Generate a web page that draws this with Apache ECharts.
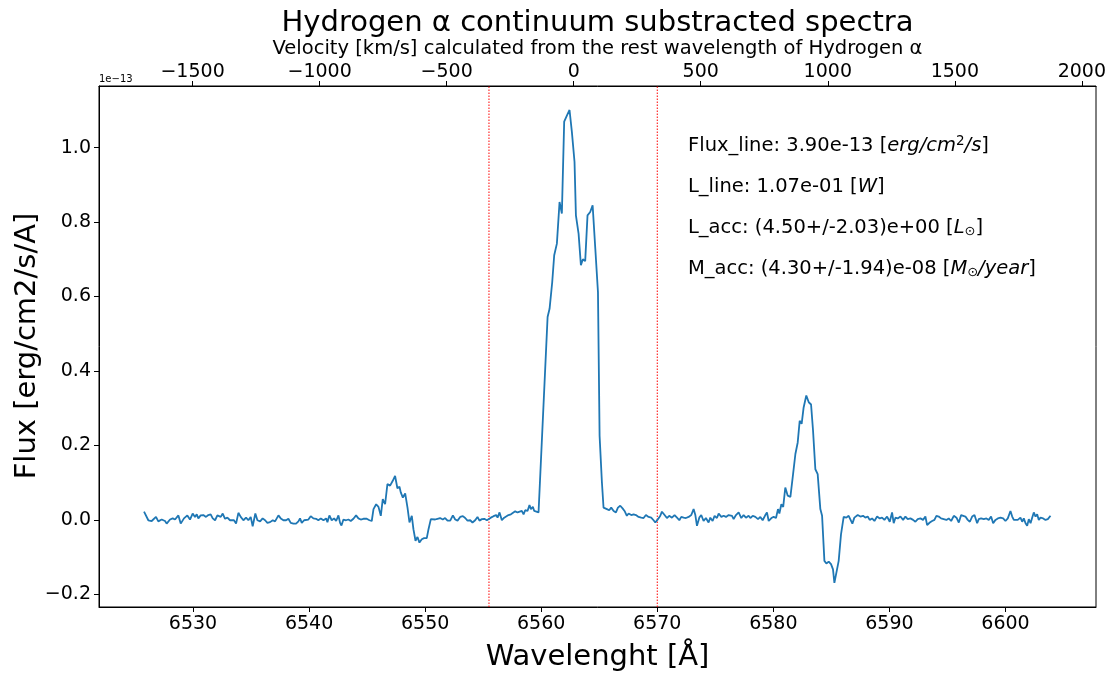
<!DOCTYPE html>
<html>
<head>
<meta charset="utf-8">
<script src="https://cdn.jsdelivr.net/npm/echarts@6/dist/echarts.min.js"></script>
<style>
html,body{margin:0;padding:0;background:#fff;}
#c{width:1112px;height:673px;}
</style>
</head>
<body>
<div id="c"></div>
<script>
// ---------------- DATA ----------------
// Flux is in units of 1e-13 erg/cm2/s/A ; pairs are [wavelength (A), flux]
const blueContinuum = [
 [6525.78,0.022],[6526.15,-0.001],[6526.44,-0.003],[6526.81,0.008],[6527.01,-0.004],[6527.30,0.001],[6527.59,-0.003],[6527.73,-0.010],
 [6528.02,0.001],[6528.25,0.004],[6528.45,0.001],[6528.74,0.012],[6528.94,-0.010],[6529.22,0.004],[6529.51,0.012],[6529.74,0.001],
 [6529.97,0.017],[6530.17,0.008],[6530.32,0.015],[6530.46,0.004],[6530.66,0.012],[6530.89,0.013],[6531.12,0.008],[6531.32,0.013],
 [6531.52,0.015],[6531.70,0.004],[6531.90,-0.001],[6532.10,0.012],[6532.27,0.017],[6532.39,0.008],[6532.56,0.017],[6532.76,0.003],
 [6532.96,0.006],[6533.19,-0.001],[6533.33,-0.006],[6533.53,-0.001],[6533.71,-0.010],[6533.91,0.019],[6534.11,0.008],[6534.34,-0.001],
 [6534.57,0.006],[6534.77,-0.001],[6534.97,0.008],[6535.14,-0.017],[6535.37,0.017],[6535.55,-0.001],[6535.78,-0.004],[6536.00,0.004],
 [6536.21,-0.001],[6536.41,-0.008],[6536.64,-0.006],[6536.87,-0.001],[6537.07,-0.004],[6537.36,0.012],[6537.56,0.004],[6537.79,-0.001],
 [6538.02,-0.001],[6538.22,0.003],[6538.42,-0.008],[6538.65,-0.010],[6538.88,-0.010],[6539.08,-0.004],[6539.22,0.004],[6539.37,-0.008],
 [6539.57,-0.001],[6539.74,-0.006],[6539.94,0.001],[6540.14,0.010],[6540.37,0.004],[6540.60,0.003],[6540.80,-0.001],[6541.01,0.004],
 [6541.24,-0.001],[6541.47,0.004],[6541.58,-0.006],[6541.75,0.012],[6541.95,-0.001],[6542.16,0.004],[6542.33,-0.003],[6542.53,0.012],
 [6542.67,-0.008],[6542.79,-0.015],[6542.96,0.001],[6543.19,-0.001],[6543.39,0.001],[6543.59,-0.003],[6543.82,0.003],[6544.05,0.012],
 [6544.25,0.004],[6544.45,0.001],[6544.68,0.003],[6544.97,0.003],[6545.20,-0.001],[6545.40,-0.003]
];
const blueFeature = [
 [6545.55,0.029],[6545.78,0.042],[6545.98,0.035],[6546.18,0.011],[6546.35,0.056],[6546.55,0.042],[6546.75,0.096],[6546.98,0.092],
 [6547.21,0.105],[6547.41,0.118],[6547.61,0.085],[6547.79,0.089],[6547.90,0.074],[6548.08,0.060],[6548.28,0.071],[6548.48,0.033],
 [6548.65,-0.007],[6548.85,0.011],[6548.99,-0.025],[6549.17,-0.056],[6549.34,-0.046],[6549.51,-0.061],[6549.71,-0.052],[6549.91,-0.049],
 [6550.14,-0.049],[6550.29,-0.025]
];
const midContinuum = [
 [6550.49,0.002],[6550.66,0.005],[6550.86,0.001],[6551.06,0.003],[6551.29,0.005],[6551.52,0.001],[6551.72,0.005],[6551.93,-0.002],
 [6552.16,-0.002],[6552.39,0.012],[6552.59,0.001],[6552.79,-0.002],[6553.02,0.008],[6553.25,0.010],[6553.45,0.005],[6553.65,-0.002],
 [6553.88,-0.001],[6554.08,-0.007],[6554.31,-0.001],[6554.51,0.008],[6554.68,-0.002],[6554.89,0.002],[6555.09,0.003],[6555.32,-0.001],
 [6555.49,-0.002],[6555.66,0.006],[6555.89,0.010],[6556.12,0.013],[6556.24,0.006],[6556.41,0.020],[6556.61,-0.001],[6556.81,0.006],
 [6556.98,0.011],[6557.18,0.013],[6557.39,0.015],[6557.56,0.017],[6557.76,0.023],[6557.96,0.020],[6558.13,0.024],[6558.33,0.024],
 [6558.48,0.015],[6558.62,0.026],[6558.82,0.024],[6558.99,0.040],[6559.11,0.029],[6559.28,0.035],[6559.40,0.024],[6559.57,0.028],
 [6559.77,0.020],[6559.91,0.017]
];
const halphaCore = [
 [6560.55,0.545],[6560.72,0.567],[6560.95,0.639],[6561.12,0.711],[6561.35,0.742],[6561.58,0.854],[6561.78,0.823],[6561.98,1.070],
 [6562.21,1.086],[6562.44,1.101],[6562.64,1.043],[6562.87,0.962],[6562.99,0.818],[6563.22,0.769],[6563.42,0.684],[6563.59,0.700],
 [6563.79,0.695],[6563.99,0.818],[6564.22,0.827],[6564.43,0.845],[6564.66,0.729],[6564.89,0.612],[6565.03,0.226],[6565.23,0.101]
];
const redContinuum = [
 [6565.37,0.033],[6565.66,0.029],[6565.86,0.026],[6566.03,0.033],[6566.24,0.024],[6566.44,0.020],[6566.61,0.033],[6566.81,0.038],
 [6567.01,0.031],[6567.18,0.024],[6567.38,0.011],[6567.53,0.017],[6567.76,0.013],[6567.96,0.015],[6568.16,0.013],[6568.39,0.008],
 [6568.62,0.006],[6568.82,0.005],[6569.02,0.013],[6569.25,0.008],[6569.48,0.006],[6569.68,-0.001],[6569.83,-0.007],[6570.06,0.002],
 [6570.26,0.011],[6570.40,0.022],[6570.63,0.013],[6570.83,0.005],[6571.03,0.011],[6571.26,0.006],[6571.49,0.013],[6571.70,0.006],
 [6571.90,-0.001],[6572.07,0.008],[6572.27,0.006],[6572.47,0.005],[6572.70,0.008],[6572.93,0.013],[6573.13,0.029],[6573.28,0.013],
 [6573.42,-0.016],[6573.62,0.006],[6573.79,0.013],[6573.99,-0.003],[6574.19,0.005],[6574.42,-0.007],[6574.57,0.006],[6574.77,-0.003],
 [6574.94,0.011],[6575.14,0.005],[6575.29,0.017],[6575.52,0.008],[6575.72,0.011],[6575.92,0.008],[6576.15,0.013],[6576.29,0.010],
 [6576.44,0.011],[6576.58,0.002],[6576.78,0.013],[6577.01,0.020],[6577.24,0.005],[6577.44,0.013],[6577.64,0.006],[6577.87,0.011],
 [6578.02,0.005],[6578.22,0.011],[6578.45,0.008],[6578.68,0.002],[6578.88,0.008],[6579.08,-0.001],[6579.31,0.013],[6579.45,0.020],
 [6579.60,-0.003],[6579.83,0.005],[6580.03,0.008],[6580.23,0.005],[6580.40,0.029],[6580.52,0.017],[6580.69,0.042],[6580.85,0.035]
];
const redFeature = [
 [6581.03,0.087],[6581.24,0.065],[6581.47,0.062],[6581.70,0.123],[6581.90,0.177],[6582.10,0.208],[6582.27,0.266],[6582.44,0.258],
 [6582.61,0.302],[6582.84,0.334],[6583.05,0.316],[6583.25,0.310],[6583.42,0.240],[6583.62,0.136],[6583.82,0.123],[6584.05,0.029],
 [6584.20,0.011],[6584.40,-0.110],[6584.57,-0.117],[6584.77,-0.112],[6584.97,-0.119],[6585.14,-0.133],[6585.26,-0.169],[6585.43,-0.173],
 [6585.63,-0.110],[6585.83,-0.039]
];
const farRedContinuum = [
 [6586.06,0.008],[6586.29,0.006],[6586.49,0.011],[6586.64,0.015],[6586.81,-0.010],[6586.98,0.006],[6587.15,0.008],[6587.27,0.013],
 [6587.50,0.009],[6587.73,0.011],[6587.93,0.006],[6588.13,0.009],[6588.30,0.000],[6588.51,0.004],[6588.71,-0.003],[6588.94,0.009],
 [6589.17,0.004],[6589.37,0.006],[6589.57,0.000],[6589.80,0.009],[6590.03,-0.005],[6590.23,0.020],[6590.37,-0.009],[6590.52,0.006],
 [6590.72,0.004],[6590.95,0.009],[6591.18,0.000],[6591.38,0.009],[6591.58,0.002],[6591.81,0.004],[6592.04,0.000],[6592.24,-0.005],
 [6592.44,0.002],[6592.67,0.004],[6592.90,0.000],[6593.10,0.009],[6593.25,-0.014],[6593.48,-0.007],[6593.68,-0.003],[6593.88,0.000],
 [6594.05,0.011],[6594.25,0.009],[6594.45,0.004],[6594.68,0.002],[6594.91,0.000],[6595.11,0.004],[6595.32,-0.003],[6595.55,0.011],
 [6595.78,0.006],[6595.98,-0.007],[6596.18,0.013],[6596.35,0.018],[6596.55,0.009],[6596.75,0.000],[6596.93,-0.005],[6597.13,0.009],
 [6597.33,0.013],[6597.56,-0.009],[6597.70,0.002],[6597.90,0.004],[6598.13,0.002],[6598.36,0.004],[6598.56,0.000],[6598.76,0.009],
 [6598.94,-0.009],[6599.14,0.000],[6599.34,0.004],[6599.57,0.006],[6599.80,0.004],[6600.00,-0.003],[6600.20,0.004],[6600.43,0.024],
 [6600.58,0.009],[6600.72,0.000],[6600.86,0.004],[6601.06,0.000],[6601.29,0.006],[6601.44,-0.005],[6601.58,0.004],[6601.73,-0.009],
 [6601.87,-0.016],[6602.01,0.002],[6602.16,-0.009],[6602.30,0.006],[6602.44,0.020],[6602.59,0.009],[6602.73,0.015],[6602.87,0.000],
 [6603.02,0.006],[6603.25,0.004],[6603.45,0.000],[6603.65,0.002],[6603.88,0.011]
];
// integration window (red dotted lines), in A
const windowLines = [6555.5, 6570.0];
// tick labels
const waveTicks = [6530, 6540, 6550, 6560, 6570, 6580, 6590, 6600];
const velTicks = [-1500, -1000, -500, 0, 500, 1000, 1500, 2000];
const fluxTicks = [-0.2, 0.0, 0.2, 0.4, 0.6, 0.8, 1.0];
// annotation lines
const annotations = [
  '{n|Flux_line: 3.90e-13 [}{i|erg/cm}{sup|2}{i|/s}{n|]}',
  '{n|L_line: 1.07e-01 [}{i|W}{n|]}',
  '{n|L_acc: (4.50+/-2.03)e+00 [}{i|L}{sub|\u2299}{n|]}',
  '{n|M_acc: (4.30+/-1.94)e-08 [}{i|M}{sub|\u2299}{i|/year}{n|]}'
];

// ---------------- CHART ----------------
const spectrum = [].concat(blueContinuum, blueFeature, midContinuum, halphaCore, redContinuum, redFeature, farRedContinuum);
const HALPHA = 6562.8, C_KMS = 299792.458;
const wMin = 6521.9, wMax = 6607.8;
const yMin = -0.234, yMax = 1.1655;
const vMin = (wMin - HALPHA) / HALPHA * C_KMS;
const vMax = (wMax - HALPHA) / HALPHA * C_KMS;
const FONT = 'DejaVu Sans';
const minus = s => String(s).replace('-', '\u2212');

const GL = 99, GR = 16, GT = 86, GB = 66;
const chart = echarts.init(document.getElementById('c'), null, {renderer: 'canvas'});

const richStyles = {
  n: {fontSize: 19.5, fontFamily: FONT, color: '#000'},
  i: {fontSize: 19.5, fontFamily: FONT, fontStyle: 'italic', color: '#000'},
  sup: {fontSize: 13.5, fontFamily: FONT, color: '#000', verticalAlign: 'top', padding: [0, 0, 9, 0]},
  sub: {fontSize: 13, fontFamily: FONT, color: '#000', verticalAlign: 'bottom', padding: [6, 0, 0, 0]}
};

const graphics = [
  {type: 'text', x: 597.5, y: 23, style: {text: 'Hydrogen \u03b1 continuum substracted spectra', fontSize: 29, fontFamily: FONT, fill: '#000', align: 'center', verticalAlign: 'middle'}},
  {type: 'text', x: 597.5, y: 48.5, style: {text: 'Velocity [km/s] calculated from the rest wavelength of Hydrogen \u03b1', fontSize: 19.5, fontFamily: FONT, fill: '#000', align: 'center', verticalAlign: 'middle'}},
  {type: 'text', x: 597.5, y: 657, style: {text: 'Wavelenght [\u00c5]', fontSize: 29, fontFamily: FONT, fill: '#000', align: 'center', verticalAlign: 'middle'}},
  {type: 'text', x: 27, y: 346, rotation: Math.PI / 2, style: {text: 'Flux [erg/cm2/s/A]', fontSize: 29, fontFamily: FONT, fill: '#000', align: 'center', verticalAlign: 'middle'}},
  {type: 'text', x: 99, y: 84, style: {text: '1e\u221213', fontSize: 10, fontFamily: FONT, fill: '#000', align: 'left', verticalAlign: 'bottom'}}
];
annotations.forEach((t, k) => {
  graphics.push({type: 'text', x: 688, y: 146 + k * 41, style: {text: t, rich: richStyles, align: 'left', verticalAlign: 'middle', fill: '#000'}});
});

const axisLineStyle = {show: true, onZero: false, lineStyle: {color: '#000', width: 1}};

// each window line is a two-point series spanning the flux axis
const windowSeries = windowLines.map(w => ({
  type: 'line', xAxisIndex: 0, yAxisIndex: 0, silent: true, z: 1,
  data: [[w, yMin], [w, yMax]],
  showSymbol: false, symbol: 'none',
  color: '#ff0000',
  itemStyle: {color: '#ff0000'},
  lineStyle: {color: '#ff0000', width: 1, type: [1.5, 1.5]}
}));

chart.setOption({
  animation: false,
  backgroundColor: '#fff',
  grid: {left: GL, right: GR, top: GT, bottom: GB, show: true, borderColor: '#000', borderWidth: 1, backgroundColor: 'transparent'},
  xAxis: [
    {
      type: 'value', position: 'bottom', min: wMin, max: wMax,
      splitLine: {show: false}, axisLine: axisLineStyle,
      axisTick: {show: true, length: 5, customValues: waveTicks, lineStyle: {color: '#000', width: 1}},
      axisLabel: {customValues: waveTicks, fontSize: 19, fontFamily: FONT, color: '#000', margin: 8, formatter: v => minus(v)}
    },
    {
      type: 'value', position: 'top', min: vMin, max: vMax,
      splitLine: {show: false}, axisLine: axisLineStyle,
      axisTick: {show: true, length: 5, customValues: velTicks, lineStyle: {color: '#000', width: 1}},
      axisLabel: {customValues: velTicks, fontSize: 19, fontFamily: FONT, color: '#000', margin: 4, formatter: v => minus(v)}
    }
  ],
  yAxis: {
    type: 'value', min: yMin, max: yMax,
    splitLine: {show: false}, axisLine: axisLineStyle,
    axisTick: {show: true, length: 5, customValues: fluxTicks, lineStyle: {color: '#000', width: 1}},
    axisLabel: {customValues: fluxTicks, fontSize: 19, fontFamily: FONT, color: '#000', margin: 8, formatter: v => minus(Number(v).toFixed(1))}
  },
  graphic: graphics,
  series: windowSeries.concat([{
    type: 'line', xAxisIndex: 0, yAxisIndex: 0, z: 2,
    data: spectrum,
    showSymbol: false, symbol: 'none',
    color: '#1f77b4',
    lineStyle: {color: '#1f77b4', width: 1.8}
  }])
});
</script>
</body>
</html>
